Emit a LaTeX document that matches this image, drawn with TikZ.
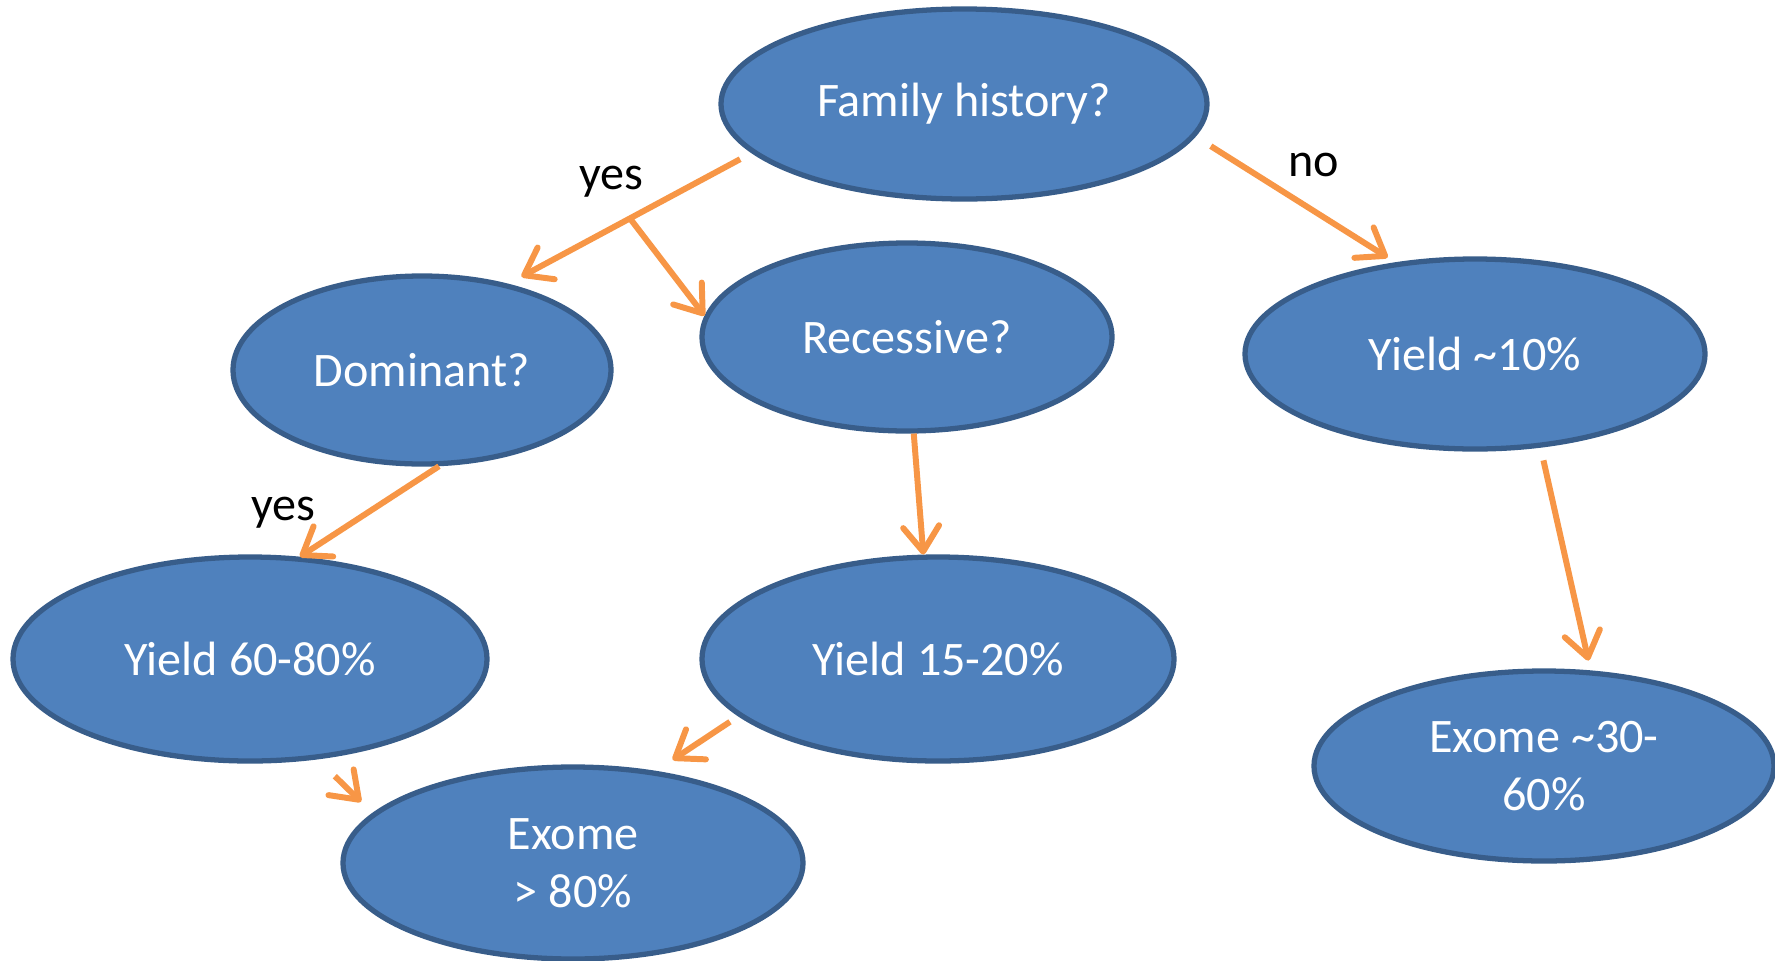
\documentclass[tikz,border=0pt]{standalone}
\usepackage{fontspec}
\setmainfont{Carlito}
\usetikzlibrary{shapes.geometric,arrows.meta,calc}
\definecolor{ovalblue}{HTML}{4F81BD}
\definecolor{ovalline}{HTML}{385D8A}
\definecolor{linkorange}{HTML}{F79646}

\begin{document}
\begin{tikzpicture}[
  oval/.style={ellipse,fill=ovalblue,draw=ovalline,line width=1.5pt,text=white,inner sep=0pt,align=center,font=\fontsize{13.7}{16.5}\selectfont},
  link/.style={draw=linkorange,line width=1.7pt,-{Straight Barb[round,length=2.5mm,width=3.6mm]}},
  lab/.style={font=\fontsize{13.7}{16.5}\selectfont}]
\useasboundingbox (0,0) rectangle (17.75,9.6);
\node[oval,minimum width=4.86cm,minimum height=1.9cm] (fam) at (9.64,8.56) {Family history?};
\node[oval,minimum width=3.78cm,minimum height=1.88cm] (dom) at (4.22,5.90) {Dominant?};
\node[oval,minimum width=4.10cm,minimum height=1.88cm] (rec) at (9.07,6.23) {Recessive?};
\node[oval,minimum width=4.60cm,minimum height=1.9cm] (y10) at (14.75,6.06) {Yield \textasciitilde10\%};
\node[oval,minimum width=4.74cm,minimum height=2.04cm] (y6080) at (2.50,3.01) {Yield 60-80\%};
\node[oval,minimum width=4.72cm,minimum height=2.04cm] (y1520) at (9.38,3.01) {Yield 15-20\%};
\node[oval,minimum width=4.60cm,minimum height=1.92cm] (ex80) at (5.73,0.97) {Exome\\> 80\%};
\node[oval,minimum width=4.60cm,minimum height=1.9cm] (ex3060) at (15.44,1.94) {Exome \textasciitilde30-\\60\%};
\node[lab] (yes1) at (6.11,7.78) {yes};
\node[lab] (no) at (13.14,7.95) {no};
\node[lab] (yes2) at (2.83,4.47) {yes};
\draw[link,shorten <=1.3mm,shorten >=1.5mm] (fam.193) -- (dom.45);
\coordinate (split) at ($(fam.193)!0.5!(dom.45)$);
\draw[link] (split) -- (rec.174);
\draw[link,shorten <=1.8mm,shorten >=0.9mm] (fam.-8) -- (y10.131);
\draw[link] (dom.-80) -- (y6080.64);
\draw[link] (rec.-86) -- (y1520.98);
\draw[link,shorten <=1.3mm,shorten >=1mm] (y10.-55) -- (ex3060.64);
\draw[link,shorten <=1mm,shorten >=2mm] (y1520.196) -- (ex80.48);
\draw[link,shorten <=2.4mm,shorten >=1.6mm] (y6080.-56) -- (ex80.166);
\end{tikzpicture}
\end{document}
